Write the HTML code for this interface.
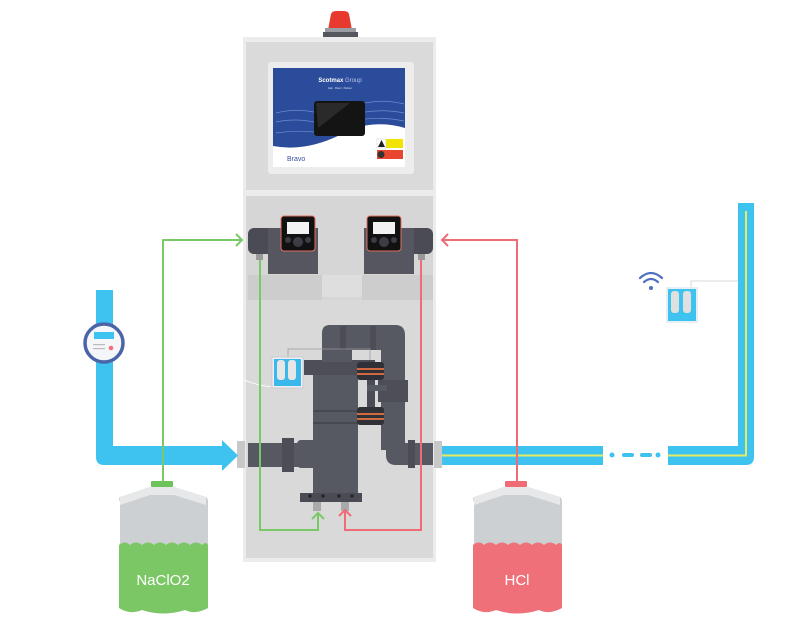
<!DOCTYPE html>
<html><head><style>html,body{margin:0;padding:0;background:#fff}svg{display:block}</style></head>
<body>
<svg width="809" height="630" viewBox="0 0 809 630" xmlns="http://www.w3.org/2000/svg" font-family="Liberation Sans, sans-serif">
<!-- beacon -->
<path d="M328 30 L331 14 Q332 11 336 11 L344 11 Q348 11 349 14 L352 30 Z" fill="#e8392f"/>
<rect x="325" y="28" width="31" height="4" fill="#9a9ca3"/>
<rect x="323" y="32" width="35" height="5" fill="#55575e"/>
<!-- cabinet -->
<rect x="243" y="37" width="193" height="525" fill="#ececec"/>
<rect x="246" y="42" width="187" height="148" fill="#dadada"/>
<rect x="246" y="196" width="187" height="362" fill="#d6d6d6"/>
<rect x="246" y="300" width="187" height="258" fill="#d9d9d9"/>
<rect x="248" y="275" width="74" height="25" fill="#cdcdcd"/>
<rect x="362" y="275" width="71" height="25" fill="#cdcdcd"/>
<rect x="322" y="275" width="40" height="22" fill="#dedede"/>
<!-- screen panel -->
<rect x="268" y="62" width="146" height="112" rx="3" fill="#ededed"/>
<rect x="273" y="68" width="132" height="99" fill="#fff"/>
<path d="M273 68 H405 V128 Q370 118 340 135 Q305 152 273 146 Z" fill="#2b4c9b"/>
<g stroke="#6f8cd0" stroke-width="0.7" fill="none">
<path d="M276 113 Q295 108 314 112"/><path d="M276 122 Q295 118 314 122"/><path d="M276 133 Q295 130 314 132"/>
<path d="M365 103 Q385 99 404 104"/><path d="M365 112 Q385 109 404 113"/><path d="M365 119 Q385 117 404 121"/>
</g>
<text x="340" y="82" font-size="6" font-weight="bold" fill="#fff" text-anchor="middle">Scotmax <tspan font-weight="normal" fill="#b8c6ea">Group</tspan></text>
<text x="340" y="89" font-size="2.5" fill="#dfe6f7" text-anchor="middle">Italy · Direct · Partner</text>
<rect x="314" y="101" width="51" height="35" rx="3" fill="#141414"/>
<path d="M316 103 L350 103 L318 128 Z" fill="#2a2a2a"/>
<text x="287" y="161" font-size="7" fill="#3850a0">Bravo</text>
<rect x="377" y="139" width="26" height="9" fill="#f3e300"/><rect x="377" y="139" width="9" height="9" fill="#fff" stroke="#ccc" stroke-width="0.5"/>
<path d="M381.5 140 L385 147 L378 147 Z" fill="#222"/>
<rect x="377" y="150" width="26" height="9" fill="#e8462f"/><circle cx="381" cy="154.5" r="3.5" fill="#333"/>
<!-- pumps -->
<g>
<rect x="248" y="228" width="26" height="26" rx="6" fill="#4a4b55"/>
<rect x="268" y="228" width="50" height="46" fill="#55565f"/>
<rect x="281" y="216" width="34" height="35" rx="3" fill="#111" stroke="#e07060" stroke-width="1"/>
<rect x="287" y="222" width="22" height="12" fill="#f2f2f2"/>
<circle cx="298" cy="242" r="5" fill="#3b3c44"/><circle cx="288" cy="240" r="3" fill="#3b3c44"/><circle cx="308" cy="240" r="3" fill="#3b3c44"/>
<rect x="256" y="254" width="7" height="6" fill="#999"/>
</g>
<g>
<rect x="407" y="228" width="26" height="26" rx="6" fill="#4a4b55"/>
<rect x="364" y="228" width="50" height="46" fill="#55565f"/>
<rect x="367" y="216" width="34" height="35" rx="3" fill="#111" stroke="#e07060" stroke-width="1"/>
<rect x="373" y="222" width="22" height="12" fill="#f2f2f2"/>
<circle cx="384" cy="242" r="5" fill="#3b3c44"/><circle cx="374" cy="240" r="3" fill="#3b3c44"/><circle cx="394" cy="240" r="3" fill="#3b3c44"/>
<rect x="418" y="254" width="7" height="6" fill="#999"/>
</g>
<!-- inner pipework -->
<g fill="#565862">
<rect x="248" y="443" width="56" height="24"/>
<rect x="282" y="438" width="12" height="34" fill="#4c4d57"/>
<rect x="297" y="440" width="30" height="28" rx="4"/>
<rect x="313" y="375" width="45" height="122"/>
<rect x="313" y="410" width="45" height="2" fill="#474852"/>
<rect x="313" y="422" width="45" height="2" fill="#474852"/>
<rect x="304" y="360" width="64" height="15" fill="#4d4e58"/>
<rect x="322" y="340" width="30" height="22"/>
<path d="M322 345 V333 Q322 325 330 325 H395 Q405 325 405 335 V350 H322 Z"/>
<rect x="340" y="326" width="6" height="24" fill="#4c4d57"/><rect x="370" y="326" width="6" height="24" fill="#4c4d57"/>
<rect x="381" y="350" width="24" height="100"/>
<rect x="378" y="380" width="30" height="22" fill="#4d4e58"/>
<path d="M386 430 V455 Q386 465 396 465 H433 V443 H405 V430 Z"/>
<rect x="408" y="440" width="7" height="28" fill="#4c4d57"/>
<rect x="367" y="360" width="8" height="65" fill="#4a4b55"/>
<rect x="367" y="385" width="20" height="6"/>
<rect x="357" y="362" width="27" height="18" rx="3" fill="#2f3038"/><rect x="357" y="368" width="27" height="2" fill="#d06a40"/><rect x="357" y="373" width="27" height="2" fill="#d06a40"/>
<rect x="357" y="407" width="27" height="18" rx="3" fill="#2f3038"/><rect x="357" y="413" width="27" height="2" fill="#d06a40"/><rect x="357" y="418" width="27" height="2" fill="#d06a40"/>
<rect x="300" y="493" width="62" height="9" fill="#4a4b55"/>
</g>
<g fill="#222"><circle cx="310" cy="496" r="1.6"/><circle cx="323" cy="496" r="1.6"/><circle cx="339" cy="496" r="1.6"/><circle cx="352" cy="496" r="1.6"/></g>
<rect x="313" y="502" width="8" height="9" fill="#aaa"/><rect x="341" y="502" width="8" height="9" fill="#aaa"/>
<!-- sensor box left -->
<path d="M288 357 V349 H370 V360" stroke="#999" stroke-width="0.7" fill="none"/>
<path d="M244 380 Q265 388 274 386" stroke="#fff" stroke-width="0.8" fill="none"/>
<rect x="272" y="357" width="31" height="31" fill="#eef" stroke="#ccc"/>
<rect x="274" y="359" width="27" height="27" fill="#3bb8ea"/>
<rect x="277" y="360" width="8" height="20" rx="3" fill="#e6e6e6"/><rect x="288" y="360" width="8" height="20" rx="3" fill="#e6e6e6"/>
<!-- gray end caps -->
<rect x="237" y="441" width="8" height="27" fill="#c8c8c8"/>
<rect x="434" y="441" width="8" height="27" fill="#c8c8c8"/>
<!-- left blue pipe -->
<path d="M96 290 H113 V446 H222 V440 L238 455.5 L222 471 V465 H104 Q96 465 96 457 Z" fill="#3ec2ef"/>
<circle cx="104" cy="343" r="19" fill="#f5f6fa" stroke="#4b64a8" stroke-width="3.5"/>
<rect x="94" y="332" width="20" height="7" fill="#3ec2ef"/>
<rect x="93" y="344" width="12" height="1.2" fill="#bbb"/><rect x="93" y="348" width="12" height="1.2" fill="#bbb"/>
<circle cx="111" cy="348" r="2.3" fill="#f07080"/>
<!-- right blue pipe -->
<rect x="442" y="446" width="161" height="19" fill="#3ec2ef"/>
<line x1="442" y1="455.5" x2="603" y2="455.5" stroke="#e8ea60" stroke-width="2"/>
<g fill="#3ec2ef"><circle cx="612" cy="455" r="2.5"/><rect x="622" y="453" width="12" height="4" rx="2"/><rect x="640" y="453" width="12" height="4" rx="2"/><circle cx="658" cy="455" r="2.5"/></g>
<path d="M668 446 H738 V203 H754 V457 Q754 465 746 465 H668 Z" fill="#3ec2ef"/>
<path d="M668 455.5 H746 V211" stroke="#e8ea60" stroke-width="2" fill="none"/>
<!-- wifi and right sensor -->
<path d="M691 287 V281 H738" stroke="#ccc" stroke-width="0.8" fill="none"/>
<rect x="666" y="287" width="32" height="36" fill="#e8eef5"/>
<rect x="668" y="289" width="28" height="32" fill="#3ec2ef"/>
<rect x="671" y="291" width="8" height="22" rx="3" fill="#e0e0e0"/><rect x="683" y="291" width="8" height="22" rx="3" fill="#e0e0e0"/>
<g stroke="#4b6fbf" stroke-width="2.2" fill="none" stroke-linecap="round">
<path d="M640 278 Q651 268 662 278"/><path d="M644 282 Q651 276 658 282"/></g>
<circle cx="651" cy="288" r="2" fill="#4b6fbf"/>
<!-- tanks -->
<g>
<rect x="151" y="481" width="22" height="6" rx="1" fill="#6cc35a"/>
<path d="M120 497 L150 487 H174 L206 497 Q208 498 208 502 V608 Q195 615 185 610 Q163 617 142 610 Q130 615 120 608 V502 Q118 498 120 497 Z" fill="#cdd0d2"/>
<path d="M120 497 L150 487 H174 L206 497 L206 505 L174 495 H150 L120 505 Z" fill="#e6e8e9"/>
<path d="M119 545 Q125 540 130 545 Q136 540 142 545 Q148 540 154 545 Q160 540 166 545 Q172 540 178 545 Q184 540 190 545 Q196 540 202 545 Q206 541 208 545 V608 Q195 615 185 610 Q163 617 142 610 Q130 615 119 608 Z" fill="#7cc765"/>
<text x="163" y="585" font-size="15" fill="#fff" text-anchor="middle">NaClO2</text>
</g>
<g>
<rect x="505" y="481" width="22" height="6" rx="1" fill="#ef6b75"/>
<path d="M474 497 L504 487 H528 L560 497 Q562 498 562 502 V608 Q549 615 539 610 Q517 617 496 610 Q484 615 474 608 V502 Q472 498 474 497 Z" fill="#cdd0d2"/>
<path d="M474 497 L504 487 H528 L560 497 L560 505 L528 495 H504 L474 505 Z" fill="#e6e8e9"/>
<path d="M473 545 Q479 540 484 545 Q490 540 496 545 Q502 540 508 545 Q514 540 520 545 Q526 540 532 545 Q538 540 544 545 Q550 540 556 545 Q560 541 562 545 V608 Q549 615 539 610 Q517 617 496 610 Q484 615 473 608 Z" fill="#f07079"/>
<text x="517" y="585" font-size="15" fill="#fff" text-anchor="middle">HCl</text>
</g>
<!-- green lines -->
<g stroke="#79c968" stroke-width="2" fill="none">
<path d="M163 482 V240 H242"/><path d="M236 234 L242 240 L236 246"/>
<path d="M260 260 V530 H318 V513"/><path d="M312 519 L318 513 L324 519"/>
</g>
<!-- red lines -->
<g stroke="#ef6b75" stroke-width="2" fill="none">
<path d="M517 482 V240 H442"/><path d="M448 234 L442 240 L448 246"/>
<path d="M421 260 V530 H345 V510"/><path d="M339 516 L345 510 L351 516"/>
</g>
</svg>
</body></html>
